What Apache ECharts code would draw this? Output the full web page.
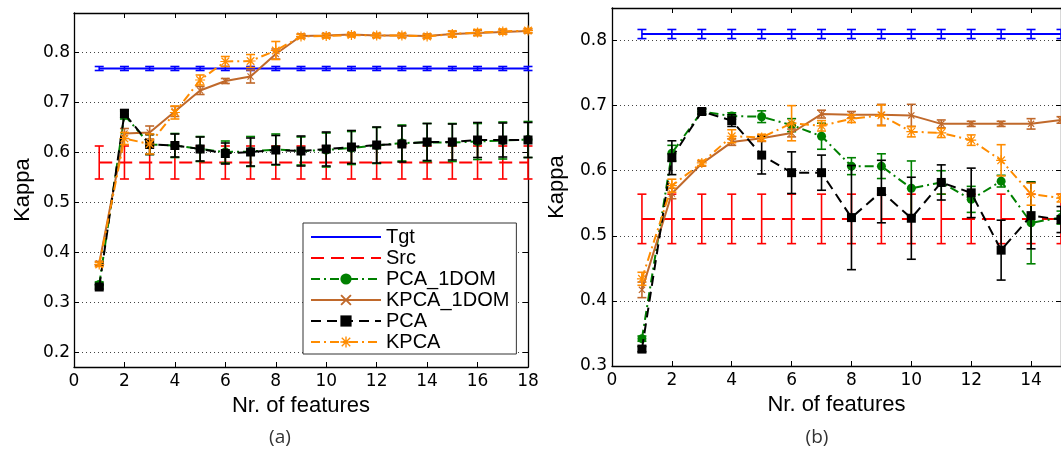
<!DOCTYPE html>
<html><head><meta charset="utf-8">
<script src="https://cdn.jsdelivr.net/npm/echarts@6/dist/echarts.min.js"></script>
<style>html,body{margin:0;padding:0;background:#fff;overflow:hidden}#c{width:1061px;height:454px}</style>
</head><body><div id="c"></div>
<script>
// ---------- data: panel (a) ----------
const featuresA = [1,2,3,4,5,6,7,8,9,10,11,12,13,14,15,16,17,18];
const tgtA      = [0.768,0.768,0.768,0.768,0.768,0.768,0.768,0.768,0.768,0.768,0.768,0.768,0.768,0.768,0.768,0.768,0.768,0.768];
const tgtErrA   = [0.004,0.004,0.004,0.004,0.004,0.004,0.004,0.004,0.004,0.004,0.004,0.004,0.004,0.004,0.004,0.004,0.004,0.004];
const srcA      = [0.580,0.580,0.580,0.580,0.580,0.580,0.580,0.580,0.580,0.580,0.580,0.580,0.580,0.580,0.580,0.580,0.580,0.580];
const srcErrA   = [0.033,0.033,0.033,0.033,0.033,0.033,0.033,0.033,0.033,0.033,0.033,0.033,0.033,0.033,0.033,0.033,0.033,0.033];
const pca1domA  = [0.336,0.675,0.616,0.614,0.607,0.601,0.602,0.606,0.603,0.605,0.609,0.614,0.619,0.620,0.620,0.622,0.624,0.626];
const pca1domErrA=[0.005,0.008,0.020,0.024,0.025,0.022,0.030,0.031,0.028,0.034,0.033,0.036,0.036,0.038,0.038,0.036,0.037,0.036];
const kpca1domA = [0.378,0.638,0.640,0.682,0.724,0.743,0.752,0.797,0.833,0.834,0.836,0.834,0.834,0.833,0.837,0.839,0.841,0.843];
const kpca1domErrA=[0.004,0.010,0.013,0.010,0.008,0.005,0.013,0.010,0.004,0.004,0.003,0.004,0.004,0.004,0.005,0.005,0.004,0.004];
const pcaA      = [0.331,0.678,0.616,0.614,0.607,0.598,0.601,0.605,0.603,0.607,0.611,0.615,0.617,0.621,0.621,0.625,0.625,0.625];
const pcaErrA   = [0.004,0.008,0.020,0.023,0.024,0.021,0.028,0.029,0.030,0.034,0.033,0.036,0.036,0.037,0.036,0.035,0.034,0.035];
const kpcaA     = [0.376,0.628,0.617,0.680,0.745,0.782,0.783,0.804,0.832,0.833,0.835,0.834,0.834,0.832,0.837,0.840,0.842,0.844];
const kpcaErrA  = [0.004,0.012,0.020,0.013,0.010,0.010,0.013,0.018,0.004,0.004,0.004,0.004,0.004,0.004,0.006,0.006,0.005,0.004];

// ---------- data: panel (b) ----------
const featuresB = [1,2,3,4,5,6,7,8,9,10,11,12,13,14,15];
const tgtB      = [0.810,0.810,0.810,0.810,0.810,0.810,0.810,0.810,0.810,0.810,0.810,0.810,0.810,0.810,0.810];
const tgtErrB   = [0.007,0.007,0.007,0.007,0.007,0.007,0.007,0.007,0.007,0.007,0.007,0.007,0.007,0.007,0.007];
const srcB      = [0.526,0.526,0.526,0.526,0.526,0.526,0.526,0.526,0.526,0.526,0.526,0.526,0.526,0.526,0.526];
const srcErrB   = [0.038,0.038,0.038,0.038,0.038,0.038,0.038,0.038,0.038,0.038,0.038,0.038,0.038,0.038,0.038];
const pca1domB  = [0.342,0.627,0.691,0.684,0.683,0.670,0.653,0.607,0.607,0.573,0.582,0.556,0.584,0.520,0.528];
const pca1domErrB=[0.004,0.012,0.004,0.005,0.009,0.010,0.020,0.013,0.019,0.042,0.018,0.020,0.009,0.063,0.010];
const kpca1domB = [0.417,0.565,0.611,0.644,0.650,0.658,0.687,0.686,0.686,0.685,0.672,0.672,0.672,0.672,0.678];
const kpca1domErrB=[0.012,0.008,0.004,0.005,0.005,0.006,0.006,0.005,0.016,0.017,0.006,0.004,0.004,0.008,0.005];
const pcaB      = [0.326,0.620,0.691,0.677,0.624,0.597,0.597,0.528,0.568,0.527,0.582,0.566,0.478,0.531,0.525];
const pcaErrB   = [0.004,0.026,0.004,0.009,0.029,0.032,0.027,0.080,0.048,0.063,0.027,0.038,0.046,0.051,0.020];
const kpcaB     = [0.434,0.577,0.612,0.653,0.651,0.673,0.669,0.680,0.685,0.660,0.658,0.647,0.616,0.564,0.558];
const kpcaErrB  = [0.010,0.010,0.004,0.010,0.005,0.027,0.008,0.006,0.016,0.008,0.007,0.008,0.024,0.017,0.006];

// ---------- axis labels ----------
const seriesNames = ['Tgt','Src','PCA_1DOM','KPCA_1DOM','PCA','KPCA'];
const yTicksA = [0.2,0.3,0.4,0.5,0.6,0.7,0.8];
const xLabel = 'Nr. of features';
const yLabel = 'Kappa';
const panelCaptions = ['(a)','(b)'];

// ---------- styles ----------
const CROSS = 'path://M0,1.2L1.2,0L5,3.8L8.8,0L10,1.2L6.2,5L10,8.8L8.8,10L5,6.2L1.2,10L0,8.8L3.8,5Z';
const STAR = 'path://M4.4,0L5.6,0L5.6,10L4.4,10Z M0,4.4L10,4.4L10,5.6L0,5.6Z M0.8,1.65L1.65,0.8L9.2,8.35L8.35,9.2Z M8.35,0.8L9.2,1.65L1.65,9.2L0.8,8.35Z';
const styles = [
  {color:'#0000ff', type:'solid', symbol:'none', size:0},
  {color:'#ff0000', type:[13,7], symbol:'none', size:0},
  {color:'#008000', type:[9,4,2,4], symbol:'circle', size:9},
  {color:'#c0692b', type:'solid', symbol:CROSS, size:7},
  {color:'#000000', type:[10,6], symbol:'rect', size:9},
  {color:'#ff8c00', type:[9,4,2,4], symbol:STAR, size:10}
];

const FONT = 'DejaVu Sans';
const NFONT = 'Liberation Sans';

function errSeries(xs, ys, es, color, xi, yi, z) {
  return {
    type:'custom', xAxisIndex:xi, yAxisIndex:yi, z:z, silent:true,
    data: xs.map((x,i)=>[x, ys[i], es[i]]),
    renderItem: function(params, api){
      const x = api.value(0), y = api.value(1), e = api.value(2);
      const t = api.coord([x, y+e]), b = api.coord([x, y-e]);
      const hw = 4.5;
      const st = {stroke: color, lineWidth: 1.6};
      return {type:'group', children:[
        {type:'line', shape:{x1:t[0],y1:t[1],x2:b[0],y2:b[1]}, style:st},
        {type:'line', shape:{x1:t[0]-hw,y1:t[1],x2:t[0]+hw,y2:t[1]}, style:st},
        {type:'line', shape:{x1:b[0]-hw,y1:b[1],x2:b[0]+hw,y2:b[1]}, style:st}
      ]};
    }
  };
}
function lineSeries(name, xs, ys, st, xi, yi, z) {
  return {
    type:'line', name:name, xAxisIndex:xi, yAxisIndex:yi, z:z,
    data: xs.map((x,i)=>[x, ys[i]]),
    symbol: st.symbol, symbolSize: st.size, showSymbol: st.symbol!=='none',
    showAllSymbol:true,
    lineStyle:{color:st.color, width:2, type:st.type},
    itemStyle:{color:st.color},
    emphasis:{disabled:true}
  };
}

const panelA = [[tgtA,tgtErrA],[srcA,srcErrA],[pca1domA,pca1domErrA],[kpca1domA,kpca1domErrA],[pcaA,pcaErrA],[kpcaA,kpcaErrA]];
const panelB = [[tgtB,tgtErrB],[srcB,srcErrB],[pca1domB,pca1domErrB],[kpca1domB,kpca1domErrB],[pcaB,pcaErrB],[kpcaB,kpcaErrB]];

const series = [];
panelA.forEach((p,i)=>{
  series.push(errSeries(featuresA, p[0], p[1], styles[i].color, 0, 0, 2+i*2));
  series.push(lineSeries(seriesNames[i], featuresA, p[0], styles[i], 0, 0, 3+i*2));
});
panelB.forEach((p,i)=>{
  series.push(errSeries(featuresB, p[0], p[1], styles[i].color, 2, 2, 2+i*2));
  series.push(lineSeries(seriesNames[i]+' ', featuresB, p[0], styles[i], 2, 2, 3+i*2));
});

const axLine = {show:true, onZero:false, lineStyle:{color:'#000', width:1.3}};
const axTick = {show:true, inside:true, length:5, lineStyle:{color:'#000', width:1}};
const tickLbl = {fontFamily:FONT, fontSize:17, color:'#000'};
const nameStyle = {fontFamily:NFONT, fontSize:22, color:'#000'};
const gridDots = {show:true, lineStyle:{color:'#444', width:1, type:[1,3]}};

function xAx(gi, max, bottom) {
  return {
    type:'value', gridIndex:gi, position: bottom?'bottom':'top', min:0, max:max, interval:2,
    axisLine:axLine, axisTick:axTick, splitLine:{show:false},
    axisLabel: bottom ? Object.assign({show:true, margin:6, showMaxLabel: max===18}, tickLbl) : {show:false},
    name: bottom ? xLabel : '', nameLocation:'middle', nameGap:27, nameTextStyle:nameStyle
  };
}

const legendData = seriesNames.map((n,i)=> styles[i].symbol==='none'
  ? {name:n, itemStyle:{color:'rgba(0,0,0,0)', borderColor:'rgba(0,0,0,0)', borderWidth:0}}
  : {name:n});

const option = {
  animation:false,
  backgroundColor:'#fff',
  grid:[
    {left:74, top:13, width:454, height:354},
    {left:612, top:8, width:459, height:358}
  ],
  xAxis:[ xAx(0,18,true), xAx(0,18,false), xAx(1,15,true), xAx(1,15,false) ],
  yAxis:[
    {type:'value', gridIndex:0, position:'left', min:0.171, max:0.879,
     axisLine:axLine, axisTick:Object.assign({customValues:yTicksA}, axTick), splitLine:gridDots,
     axisLabel:Object.assign({customValues:yTicksA, margin:4, formatter:v=>v.toFixed(1)}, tickLbl),
     name:yLabel, nameLocation:'middle', nameGap:40, nameTextStyle:nameStyle},
    {type:'value', gridIndex:0, position:'right', min:0.171, max:0.879,
     axisLine:axLine, axisTick:Object.assign({customValues:yTicksA}, axTick), splitLine:{show:false}, axisLabel:{show:false}},
    {type:'value', gridIndex:1, position:'left', min:0.3, max:0.85, interval:0.1,
     axisLine:axLine, axisTick:axTick, splitLine:gridDots,
     axisLabel:Object.assign({margin:5, showMaxLabel:false, formatter:v=>v.toFixed(1)}, tickLbl),
     name:yLabel, nameLocation:'middle', nameGap:44, nameTextStyle:nameStyle},
    {type:'value', gridIndex:1, position:'right', min:0.3, max:0.85, interval:0.1,
     axisLine:axLine, axisTick:axTick, splitLine:{show:false}, axisLabel:{show:false}}
  ],
  legend:{
    data: legendData, orient:'vertical', left:303, top:223,
    itemWidth:70, itemHeight:14, itemGap:1,
    padding:[4,7,2,7],
    backgroundColor:'#fff', borderColor:'#333', borderWidth:1, borderRadius:0,
    textStyle:{fontFamily:NFONT, fontSize:20, color:'#000', lineHeight:20},
    selectedMode:false
  },
  graphic:[
    {type:'text', x:280, y:438, style:{text:panelCaptions[0], font:'19px "Open Sans"', fill:'#333', textAlign:'center', textVerticalAlign:'middle'}},
    {type:'text', x:817, y:438, style:{text:panelCaptions[1], font:'19px "Open Sans"', fill:'#333', textAlign:'center', textVerticalAlign:'middle'}}
  ],
  series: series
};
const chart = echarts.init(document.getElementById('c'));
chart.setOption(option);
</script></body></html>
